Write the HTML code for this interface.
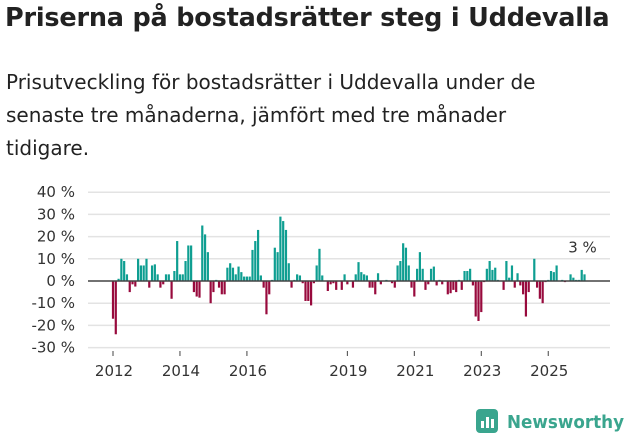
<!DOCTYPE html>
<html><head><meta charset="utf-8"><style>
body{margin:0;background:#fff;width:631px;height:439px;overflow:hidden;font-family:"DejaVu Sans","Liberation Sans",sans-serif;color:#222}
h1{position:absolute;left:5px;top:3px;margin:0;font-size:25.5px;font-weight:bold;letter-spacing:-0.2px;white-space:nowrap}
p{position:absolute;left:6px;top:66px;margin:0;font-size:20px;line-height:33px;width:565px;color:#222}
svg{position:absolute;left:0;top:0}
</style></head><body>
<h1>Priserna på bostadsrätter steg i Uddevalla</h1>
<p>Prisutveckling för bostadsrätter i Uddevalla under de senaste tre månaderna, jämfört med tre månader tidigare.</p>
<svg id="chart" width="631" height="439"></svg>
<script>
const values=[-17,-24,1,10,9,3,-5,-1.5,-2.5,10,7,7,10,-3,7,7.5,3,-3,-1.5,3,3,-8,4.5,18,3,3,9,16,16,-5,-7,-7.5,25,21,13,-10,-5,0.5,-3,-6,-6,6,8,6,3,6.5,4,2,2,2,14,18,23,2.5,-3,-15,
-6,0.5,15,13,29,27,23,8,-3,0.5,3,2.5,-1,-9,-9,-11,-1,7,14.5,2.5,0,-4.5,-1.5,-1,-4,0,-4,3,-1.5,0,-3,3,8.5,4,3,2.5,-3,-3,-6,3.5,-1.5,0,0.5,0,-1,-3,7,9,17,15,7,-3,-7,5.5,13,5.5,-4,-1.5,5.5,
6.5,-2,0.5,-1.5,0,-6,-5.5,-4,-5,0.5,-4,4.5,4.5,5.5,-2,-16,-18,-14,-0.5,5.5,9,5,6,0.5,0,-4,9,1.5,7,-3,3.5,-2,-6,-16,-5,0,10,-3,-8,-10,-0.5,0.5,4.5,4,7,0,0.5,-0.5,0,3,1.5,0.5,0.5,5,3];
const yTicks=[40,30,20,10,0,-10,-20,-30];
const xYears=[2012,2014,2016,2019,2021,2023,2025];
const startYear=2012;
const lastLabel="3 %";
const svg=document.getElementById('chart');
const NS='http://www.w3.org/2000/svg';
const FONT='DejaVu Sans, Liberation Sans, sans-serif';
const x0=113,pxMonth=2.79,zeroY=281,pxPct=2.22,left=88,right=610;
const xs=i=>x0+i*pxMonth;
const ys=v=>zeroY-v*pxPct;
function mk(t,a){const e=document.createElementNS(NS,t);for(const k in a)e.setAttribute(k,a[k]);svg.appendChild(e);return e;}
yTicks.forEach(t=>{
  if(t!==0){const g=mk('line',{x1:left,x2:right,y1:ys(t),y2:ys(t),stroke:'#e3e3e3','stroke-width':1.5});
  
  }
  const l=mk('text',{x:75,y:ys(t)+5,'text-anchor':'end','font-size':15,fill:'#333','font-family':FONT});
  l.textContent=t+' %';
  
  
});
values.forEach((v,i)=>{
  const y=Math.min(ys(v),zeroY),h=Math.abs(v)*pxPct;
  const r=mk('rect',{x:xs(i)-1.1,y:y,width:2.2,height:Math.max(h,0.5),fill:v>=0?'#0e9e91':'#980a3d'});
  
  
});
const ax=mk('line',{x1:left,x2:right,y1:zeroY,y2:zeroY,stroke:'#444','stroke-width':1.5});


xYears.forEach(yr=>{
  const i=(yr-startYear)*12;
  const tk=mk('line',{x1:xs(i),x2:xs(i),y1:351,y2:356,stroke:'#444','stroke-width':1});
  
  
  const l=mk('text',{x:xs(i)+1,y:376,'text-anchor':'middle','font-size':15,fill:'#333','font-family':FONT});
  l.textContent=yr;
  
  
});
const li=values.length-1;
const ll=mk('text',{x:xs(li)-2,y:ys(values[li])-22,'text-anchor':'middle','font-size':15,fill:'#333','font-family':FONT});
ll.textContent=lastLabel;


</script>
<svg width="631" height="439" style="pointer-events:none">
<rect x="476" y="409" width="22" height="24" rx="4" fill="#3aa58e"/>
<rect x="481" y="421" width="3" height="7" fill="#fff"/><rect x="486" y="417" width="3" height="11" fill="#fff"/><rect x="491" y="419" width="3" height="9" fill="#fff"/>
<text x="507" y="428" font-size="18" font-weight="bold" fill="#3aa58e" textLength="117" lengthAdjust="spacingAndGlyphs" font-family="DejaVu Sans, Liberation Sans, sans-serif">Newsworthy</text>
</svg>
</body></html>
